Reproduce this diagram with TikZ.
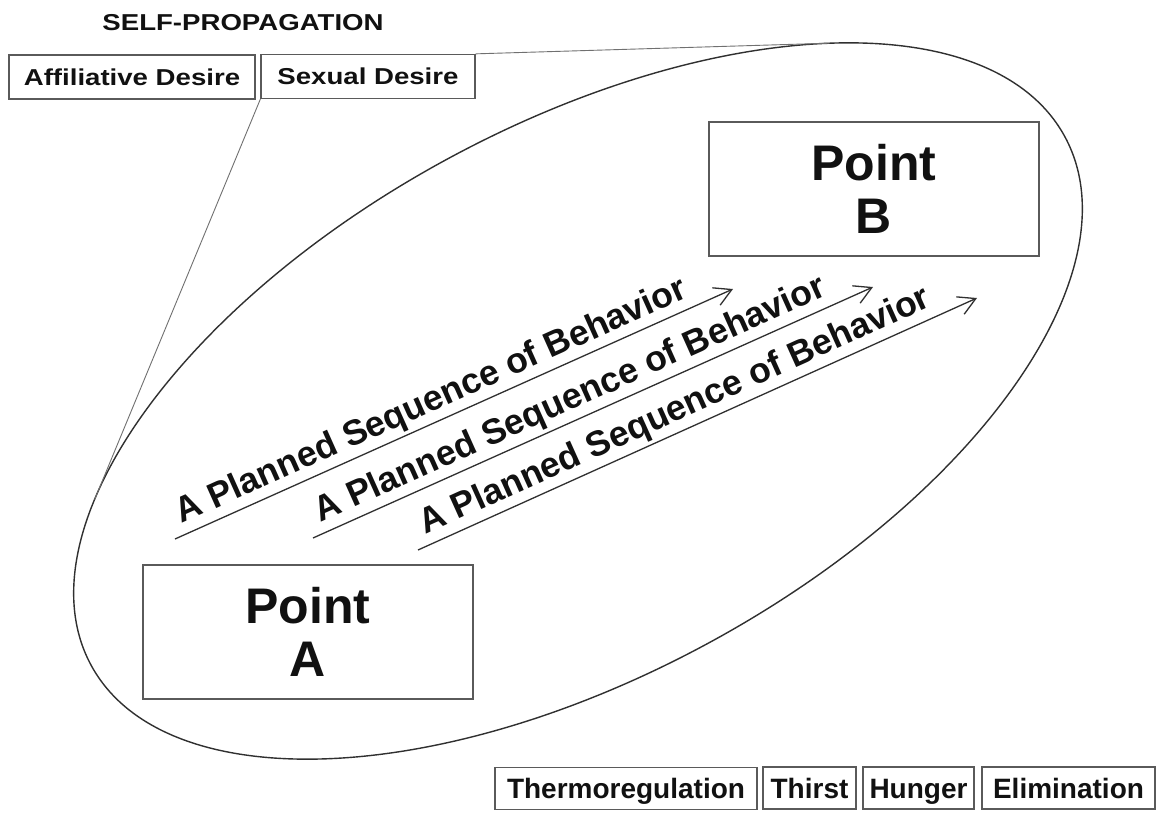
\documentclass[tikz,border=0pt]{standalone}
\usepackage{fontspec}
\setmainfont{Liberation Sans}
\newfontfamily\widefont{Liberation Sans}[FakeStretch=1.2]
\usetikzlibrary{arrows.meta}
\definecolor{boxgray}{HTML}{5A5A5A}
\definecolor{linegray}{HTML}{303030}
\definecolor{thingray}{HTML}{707070}
\definecolor{txt}{HTML}{111111}
\tikzset{
  topbox/.style={draw=boxgray, line width=1.3pt, inner sep=0pt, minimum height=44pt,
    text=txt, font=\widefont\bfseries\fontsize{23}{26}\selectfont, text height=16.5pt, text depth=0pt},
  botbox/.style={draw=boxgray, line width=1.3pt, inner sep=0pt, minimum height=42pt,
    text=txt, font=\bfseries\fontsize{28}{32}\selectfont, text height=20pt, text depth=0pt},
  pointbox/.style={draw=boxgray, line width=1.3pt, inner sep=0pt, minimum width=330pt, minimum height=134pt,
    text=txt, align=center, font=\bfseries\fontsize{50}{53}\selectfont},
  planarrow/.style={draw=linegray, line width=1.3pt, -{Straight Barb[length=17pt,width=19pt,line width=1.3pt]}},
  planlabel/.style={pos=0.475, sloped, above, inner sep=3pt, text=txt, font=\bfseries\fontsize{35.5}{38}\selectfont},
  tangentline/.style={draw=thingray, line width=0.9pt},
  oval/.style={draw=linegray, line width=1.4pt}
}
\begin{document}
\begin{tikzpicture}[x=1pt,y=1pt]
\useasboundingbox[fill=white] (0,0) rectangle (1164,-816);

% title
\node[anchor=base, text=txt, font=\widefont\bfseries\fontsize{23}{26}\selectfont, inner sep=0pt] (title) at (243,-31) {SELF-PROPAGATION};

% top boxes
\node[topbox, minimum width=246pt] (affil) at (132,-77) {Affiliative Desire};
\node[topbox, minimum width=214pt] (sexual) at (368,-76.5) {Sexual Desire};

% oval
\begin{scope}[shift={(578,-401)}, rotate=28.5]
  \draw[oval] (0,0) ellipse [x radius=554pt, y radius=275pt];
  \coordinate (etop) at (45:554pt and 275pt);
  \coordinate (eleft) at (148.4:554pt and 275pt);
\end{scope}

% tangent lines
\draw[tangentline] (sexual.north east) -- (etop);
\draw[tangentline] (sexual.south west) -- (eleft);

% points
\node[pointbox] (pB) at (874,-189) {Point\\B};
\node[pointbox] (pA) at (308,-632) {Point\\A};

% arrows
\coordinate (a1s) at (175,-539); \coordinate (a1e) at (733,-289);
\coordinate (a2s) at (313,-538); \coordinate (a2e) at (873,-287);
\coordinate (a3s) at (418,-550); \coordinate (a3e) at (977,-298);
\draw[planarrow] (a1s) -- node[planlabel] (l1) {A Planned Sequence of Behavior} (a1e);
\draw[planarrow] (a2s) -- node[planlabel] (l2) {A Planned Sequence of Behavior} (a2e);
\draw[planarrow] (a3s) -- node[planlabel] (l3) {A Planned Sequence of Behavior} (a3e);

% bottom boxes
\node[botbox, minimum width=262pt] (thermo) at (626,-788.5) {Thermoregulation};
\node[botbox, minimum width=93pt] (thirst) at (809.5,-788) {Thirst};
\node[botbox, minimum width=111pt] (hunger) at (918.5,-788) {Hunger};
\node[botbox, minimum width=173pt] (elim) at (1068.5,-788) {Elimination};
\end{tikzpicture}
\end{document}
